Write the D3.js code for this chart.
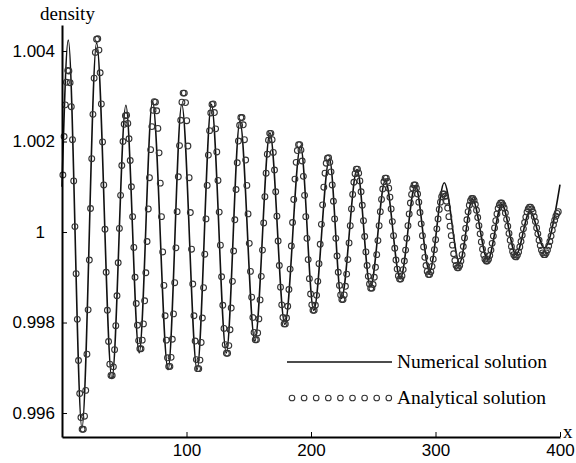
<!DOCTYPE html>
<html lang="en">
<head>
<meta charset="UTF-8">
<title>Density</title>
<style>
    body { margin: 0; padding: 0; background: #fff; }
    svg { display: block; }
    .axis path, .axis line { stroke: #000; }
    .axis text { font-family: "Liberation Sans", Arial, sans-serif; font-size: 17px; fill: #000; }
    .serif { font-family: "Liberation Serif", "Times New Roman", serif; fill: #000; }
</style>
</head>
<body>
<div id="chart"></div>
<script src="https://d3js.org/d3.v7.min.js"></script>
<script>
    // ticks
    const xTicks = [100, 200, 300, 400];
    const yTicks = [0.996, 0.998, 1, 1.002, 1.004];
    const yTickLabels = ["0.996", "0.998", "1", "1.002", "1.004"];

    // numerical solution: extremes of the curve (x, density offset in 1e-4)
    const numX = [0, 5.05, 16.0, 27.8, 40.1, 51.3, 62.0, 72.7, 85.2, 96.2, 108.5, 120.0, 132.0, 142.9,
        154.9, 167.0, 179.0, 191.6, 202.2, 214.8, 224.4, 237.0, 247.7, 259.7, 271.7, 283.8, 295.2,
        307.0, 319.3, 329.7, 342.0, 353.3, 364.7, 375.9, 387.4, 400];
    const numV = [10, 42.4, -43.3, 41.8, -32.4, 28.0, -26.7, 28.9, -30.4, 28.2, -30.4, 28.2, -26.7, 24.5,
        -24.1, 21.9, -20.4, 19.0, -17.3, 16.2, -14.7, 13.8, -12.1, 11.4, -10.3, 10.3, -8.7,
        10.9, -6.8, 7.2, -6.1, 6.1, -5.0, 4.6, -3.5, 10.5];

    // analytical solution: samples on a regular grid (density offset in 1e-4)
    const anaX0 = 0.71;
    const anaDx = 0.9658;
    const anaV = [
        12.6, 21.1, 28.1, 33.1, 35.7,
        35.6, 33.0, 27.7, 20.4, 11.3, 1.2, -9.2, -19.3, -28.4, -35.7, -41.0, -43.6,
        -43.6, -40.7, -35.0, -27.0, -17.2, -6.2, 5.2, 16.2, 26.0, 34.0, 39.7, 42.6,
        42.7, 40.2, 35.2, 28.3, 19.9, 10.4, 0.6, -8.9, -17.3, -24.2, -29.2, -31.7,
        -31.7, -29.8, -26.0, -20.7, -14.1, -6.8, 0.8, 8.1, 14.7, 20.0, 23.8, 25.7,
        25.8, 24.0, 20.6, 15.8, 10.0, 3.4, -3.4, -10.0, -15.8, -20.6, -24.0, -25.8,
        -25.8, -23.9, -20.3, -15.2, -9.0, -2.1, 5.1, 12.0, 18.2, 23.3, 26.9, 28.8,
        28.7, 26.8, 22.9, 17.5, 10.8, 3.4, -4.4, -11.8, -18.5, -23.9, -27.8, -29.7,
        -29.7, -27.7, -23.7, -18.1, -11.2, -3.5, 4.5, 12.2, 19.1, 24.7, 28.7, 30.7,
        30.7, 28.6, 24.6, 19.0, 12.0, 4.3, -3.8, -11.5, -18.5, -24.1, -28.2, -30.2,
        -30.2, -28.3, -24.4, -19.0, -12.3, -4.9, 2.9, 10.3, 17.0, 22.4, 26.3, 28.2,
        28.3, 26.4, 22.8, 17.7, 11.4, 4.4, -2.9, -9.9, -16.2, -21.3, -24.9, -26.8,
        -26.8, -25.1, -21.6, -16.8, -10.9, -4.2, 2.7, 9.4, 15.3, 20.1, 23.6, 25.3,
        25.3, 23.7, 20.4, 15.9, 10.3, 4.0, -2.5, -8.7, -14.4, -18.9, -22.2, -23.8,
        -23.8, -22.3, -19.2, -15.0, -9.8, -4.0, 2.0, 7.8, 13.0, 17.2, 20.3, 21.8,
        21.8, 20.4, 17.6, 13.7, 8.9, 3.5, -2.0, -7.4, -12.2, -16.1, -18.9, -20.3,
        -20.3, -19.0, -16.4, -12.7, -8.2, -3.1, 2.1, 7.2, 11.7, 15.4, 18.0, 19.3,
        19.3, 18.1, 15.7, 12.3, 8.1, 3.4, -1.4, -6.1, -10.3, -13.7, -16.1, -17.3,
        -17.3, -16.2, -14.0, -10.9, -7.0, -2.7, 1.7, 6.0, 9.9, 13.0, 15.2, 16.3,
        16.4, 15.4, 13.3, 10.4, 6.8, 2.9, -1.4, -5.3, -8.9, -11.8, -13.9, -14.9,
        -14.9, -13.9, -12.0, -9.3, -6.1, -2.4, 1.4, 5.1, 8.3, 11.0, 12.9, 13.9,
        13.9, 13.0, 11.3, 8.9, 5.9, 2.5, -1.0, -4.4, -7.4, -9.8, -11.5, -12.4,
        -12.4, -11.6, -10.0, -7.8, -5.0, -1.9, 1.4, 4.5, 7.2, 9.5, 11.1, 11.9,
        11.9, 11.2, 9.7, 7.7, 5.1, 2.3, -0.8, -3.6, -6.2, -8.2, -9.7, -10.4,
        -10.4, -9.7, -8.3, -6.4, -4.0, -1.4, 1.4, 4.0, 6.4, 8.3, 9.7, 10.4,
        10.4, 9.7, 8.4, 6.6, 4.3, 1.8, -0.8, -3.3, -5.6, -7.4, -8.7, -9.4,
        -9.4, -8.8, -7.6, -6.0, -3.9, -1.7, 0.7, 2.9, 5.0, 6.6, 7.8, 8.4,
        8.4, 7.9, 6.8, 5.3, 3.4, 1.3, -0.8, -2.9, -4.8, -6.3, -7.4, -7.9,
        -7.9, -7.4, -6.4, -5.0, -3.2, -1.3, 0.8, 2.7, 4.5, 5.9, 6.9, 7.4,
        7.4, 7.0, 6.1, 4.8, 3.2, 1.4, -0.4, -2.2, -3.8, -5.1, -6.0, -6.4,
        -6.4, -6.0, -5.2, -4.0, -2.5, -0.9, 0.9, 2.5, 4.0, 5.2, 6.0, 6.4,
        6.4, 6.0, 5.3, 4.2, 2.8, 1.3, -0.3, -1.8, -3.2, -4.3, -5.0, -5.4,
        -5.5, -5.1, -4.4, -3.3, -2.1, -0.7, 0.7, 2.1, 3.3, 4.4, 5.1, 5.5,
        5.5, 5.1, 4.4, 3.4, 2.3, 0.9, -0.4, -1.8, -3.0, -4.0, -4.6, -5.0,
        -5.0, -4.6, -4.0, -3.1, -2.1, -0.9, 0.4, 1.6, 2.6, 3.5, 4.1, 4.5
    ];

    const legendLabels = ["Numerical solution", "Analytical solution"];

    const width = 576, height = 463;

    const svg = d3.select("#chart").append("svg")
        .attr("width", width)
        .attr("height", height);

    const x = d3.scaleLinear().domain([0, 400]).range([62, 560]);
    const y = d3.scaleLinear().domain([0.99547, 1.004575]).range([437, 25]);

    const toDensity = v => 1 + v * 1e-4;

    // numerical line
    const numData = numX.map((d, i) => ({ x: d, y: toDensity(numV[i]) }));
    const line = d3.line()
        .x(d => x(d.x))
        .y(d => y(d.y))
        .curve(d3.curveMonotoneX);

    svg.append("path")
        .datum(numData)
        .attr("fill", "none")
        .attr("stroke", "#111")
        .attr("stroke-width", 1.6);

    svg.select("path").attr("d", line);

    // analytical circles
    const anaData = anaV.map((v, i) => ({ x: anaX0 + i * anaDx, y: toDensity(v) }));
    svg.append("g")
        .selectAll("circle")
        .data(anaData)
        .enter().append("circle")
        .attr("cx", d => x(d.x))
        .attr("cy", d => y(d.y))
        .attr("r", 2.9)
        .attr("fill", "none")
        .attr("stroke", "#333")
        .attr("stroke-width", 1.1);

    // axes
    svg.append("g")
        .attr("class", "axis")
        .attr("transform", `translate(0,${y.range()[0]})`)
        .call(d3.axisBottom(x).tickValues(xTicks).tickFormat(d3.format("d"))
            .tickSizeInner(-5).tickSizeOuter(0).tickPadding(7));

    const yAxis = svg.append("g")
        .attr("class", "axis")
        .attr("transform", `translate(${x.range()[0]},0)`)
        .call(d3.axisLeft(y).tickValues(yTicks).tickFormat((d, i) => yTickLabels[i])
            .tickSizeInner(-5).tickSizeOuter(0).tickPadding(7));

    // the single-digit label sits further left in the original
    yAxis.selectAll(".tick text").filter(d => d === 1).attr("dx", -10);

    svg.selectAll(".axis .domain").attr("stroke-width", 2);
    svg.selectAll(".axis .tick line").attr("stroke-width", 1);

    // axis titles
    svg.append("text")
        .attr("class", "serif")
        .attr("x", 40)
        .attr("y", 20)
        .attr("font-size", 19)
        .text("density");

    svg.append("text")
        .attr("class", "serif")
        .attr("x", 563)
        .attr("y", 438)
        .attr("font-size", 19)
        .text("x");

    // legend
    const legend = svg.append("g");
    legend.append("line")
        .attr("x1", 287).attr("x2", 392)
        .attr("y1", 362).attr("y2", 362)
        .attr("stroke", "#111")
        .attr("stroke-width", 1.5);

    legend.selectAll("circle")
        .data(d3.range(9))
        .enter().append("circle")
        .attr("cx", d => 292 + d * 12.1)
        .attr("cy", 398)
        .attr("r", 2.8)
        .attr("fill", "none")
        .attr("stroke", "#333")
        .attr("stroke-width", 1.1);

    legend.selectAll("text")
        .data(legendLabels)
        .enter().append("text")
        .attr("class", "serif")
        .attr("x", 397)
        .attr("y", (d, i) => 368 + i * 36)
        .attr("font-size", 19.5)
        .text(d => d);
</script>
</body>
</html>
